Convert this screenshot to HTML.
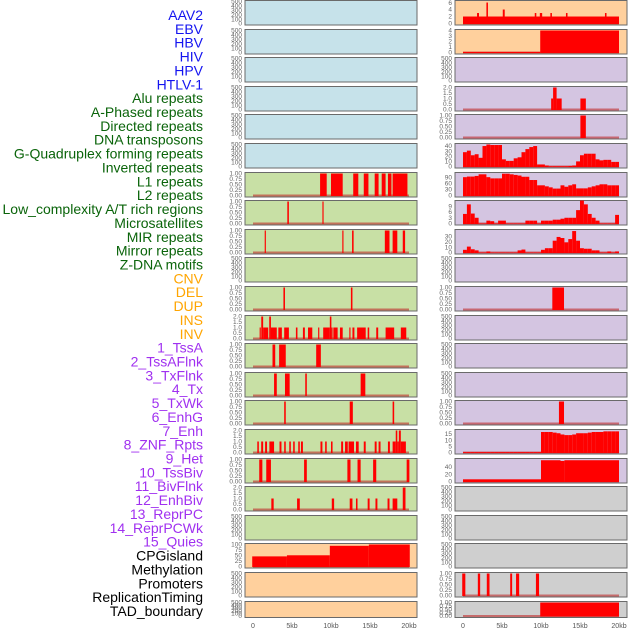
<!DOCTYPE html>
<html><head><meta charset="utf-8">
<style>
html,body{margin:0;padding:0;background:#fff;width:630px;height:630px;overflow:hidden}
svg{display:block;font-family:"Liberation Sans",sans-serif}
</style></head>
<body>
<svg id="chart" width="630" height="630" viewBox="0 0 630 630" xmlns="http://www.w3.org/2000/svg"></svg>
<script>
// ---------- labels ----------
const labelTexts = ["AAV2","EBV","HBV","HIV","HPV","HTLV-1","Alu repeats","A-Phased repeats","Directed repeats","DNA transposons","G-Quadruplex forming repeats","Inverted repeats","L1 repeats","L2 repeats","Low_complexity A/T rich regions","Microsatellites","MIR repeats","Mirror repeats","Z-DNA motifs","CNV","DEL","DUP","INS","INV","1_TssA","2_TssAFlnk","3_TxFlnk","4_Tx","5_TxWk","6_EnhG","7_Enh","8_ZNF_Rpts","9_Het","10_TssBiv","11_BivFlnk","12_EnhBiv","13_ReprPC","14_ReprPCWk","15_Quies","CPGisland","Methylation","Promoters","ReplicationTiming","TAD_boundary"];
const labelGroups = [6,13,5,15,5];
const groupColors = ["#1414f0","#0a640a","#ffa500","#a030f0","#000000"];

// ---------- tick label sets ----------
const ticksEmpty = [0,100,200,300,400,500];
const ticksUnit = ["0.00","0.25","0.50","0.75","1.00"];
const ticksTwo = ["0.0","0.5","1.0","1.5","2.0"];
const ticksAAV2 = [0,2,4,6];
const ticksEBV = [0,1,2,3,4];
const ticksGQ = [0,10,20,30,40];
const ticksInv = [0,30,60,90];
const ticksLow = [0,3,6,9];
const ticksMIR = [0,10,20,30];
const ticksZNF = [0,5,10,15];
const ticksHet = [0,20,40];
const ticksMeth = [0,25,50,75,100];
const xTickLabels = ["0","5kb","10kb","15kb","20kb"];
const xTickValues = [0,5,10,15,20];

// ---------- left column data: [startKb, endKb, value] ----------
const leftL1 = [[8.6,9.45,1],[10,11.5,1],[12.85,13.5,1],[14.2,14.8,1],[15.6,16.1,1],[16.5,17,1],[17.3,17.75,1],[17.9,19.8,1]];
const leftL2 = [[4.4,4.6,1],[8.9,9.05,1]];
const leftLowAT = [[1.5,1.65,1],[11.45,11.6,1],[12.7,12.9,1],[16.9,17.5,1],[17.9,18.5,1],[19.2,19.5,1]];
const leftMIR = [[3.9,4.1,1],[12.55,12.75,1]];
const leftMirror = [[0.85,1.0,1],[1.06,1.3,2],[1.3,1.95,1],[2.08,2.3,2],[2.3,3.05,1],[3.25,3.7,1],[4.0,4.6,1],[5.5,5.7,1],[6.4,6.65,1],[7.05,7.6,1],[8.35,8.5,1],[9.0,9.85,1],[9.85,10.05,2],[10.05,10.2,1],[10.3,10.85,1],[11.15,11.5,1],[12.35,12.5,1],[12.75,13.0,1],[13.35,14.45,1],[14.7,14.9,1],[15.8,16.05,1],[17.0,18.1,1],[18.95,19.65,1]];
const leftZDNA = [[2.5,2.85,1],[3.35,4.2,1],[8.1,8.7,1]];
const leftCNV = [[2.7,3.05,1],[4.1,4.7,1],[6.7,6.9,1],[13.8,14.4,1]];
const leftDEL = [[4.0,4.2,1],[12.4,12.8,1],[17.9,18.1,1]];
const leftDUP = [[0.55,0.75,1],[1.05,1.3,1],[1.55,1.8,1],[2.1,2.7,1],[3.4,3.65,1],[4.0,4.2,1],[4.65,4.85,1],[5.15,5.35,1],[5.8,6.0,1],[6.15,6.4,1],[8.65,8.9,1],[9.25,9.45,1],[10.0,10.2,1],[11.3,11.55,1],[11.8,12.15,1],[12.25,12.95,1],[13.2,13.55,1],[14.2,14.45,1],[15.6,15.85,1],[16.1,16.35,1],[17.3,17.55,1],[17.9,18.3,1],[18.3,18.5,2],[18.5,18.7,1],[18.7,18.95,2],[18.95,19.6,1]];
const leftINS = [[0.8,1.2,1],[1.7,2.3,1],[6.55,6.9,1],[12.1,12.5,1],[13.4,13.8,1],[15.4,15.8,1],[19.7,20.05,1]];
const leftINV = [[2.35,2.65,1],[5.65,6.0,1],[10.1,10.4,1],[12.4,12.75,1],[13.2,13.4,1],[14.7,14.95,1],[15.7,15.95,1],[17.25,17.5,1],[17.9,18.5,1],[19.2,19.55,2]];
const leftMeth = [[-0.1,4.35,46],[4.35,9.85,51],[9.85,14.85,94],[14.85,20.1,100]];

// ---------- right column data ----------
const rightAAV2 = [[0,20,2],[1.8,2.05,3],[3,3.2,6],[5.1,5.35,4],[9.2,9.4,3],[9.85,10.15,3],[11.2,11.4,3],[13.2,13.4,3],[18.2,18.4,3]];
const rightEBV = [[0,9.9,0.1],[9.9,20,4]];
const rightHPV = [[11.3,11.55,1],[11.55,12.0,2],[12.0,12.65,1],[15.05,15.75,1]];
const rightHTLV = [[15.05,15.75,1]];
// binned profiles, 0.5kb bins from 0 to 20kb
const rightGQuad = [28,31,22,24,17,40,43,42,42,42,14,11,11,16,18,28,34,38,40,4,4,2,0.5,0.5,0.5,0.5,0.5,1,2,10,22,25,25,25,14,12,13,13,9,9];
const rightInverted = [90,93,93,96,104,104,90,84,84,84,107,107,104,101,98,92,92,76,76,50,50,45,40,34,34,50,43,50,55,35,35,35,40,45,50,55,55,50,50,50];
const rightLowAT = [5,10,5.2,3,0,0,1.5,1.2,0,1.5,1.5,0,0,0,0,0,1.5,1.5,1.5,0,1.5,1.5,1.5,2,2,2.5,3,3,3,7,12,10,5,3,1.5,0,0,0,0,4.5];
const rightMicro = [5,11,6,4,0,0,2,0,0,0,0,0,0,0,4,5.5,0,0,0,0,5,8,8,22,29,27,19,25,40,22,8,7,7,4,4,0,0,2,0,2];
const rightDEL = [[11.45,12.95,1]];
const rightEnhG = [[12.3,12.95,1]];
const rightZNF = [0.3,0.3,0.3,0.3,0.3,0.3,0.3,0.3,0.3,0.3,0.3,0.3,0.3,0.3,0.3,0.3,0.3,0.3,0.3,0.3,16.5,16.5,16.5,16,15.5,14.5,14,14,14.5,15.5,15.5,15.5,16,16.5,16.5,16.5,17,17,17,17];
const rightHet = [[0,10,6],[10,12.5,58],[12.5,13,56],[13,20,58]];
const rightPromoters = [[-0.1,0.3,1],[1.9,2.2,1],[3.05,3.4,1],[6.05,6.3,1],[6.8,7.2,1],[9.35,9.75,1]];
const rightTAD = [[9.9,20,1]];

function bins(arr){ return arr.map((v,i)=>[i*0.5,i*0.5+0.5,v]); }

const BLUE="#c6e2ea", GREEN="#c8e0a5", ORANGE="#ffd09d", PURPLE="#d4c5e1", GRAY="#cfcfcf";

// panel config: [name, bg, data, ymax, ticks]
const leftPanels = [
 ["aav2",BLUE,null,500,ticksEmpty],["ebv",BLUE,null,500,ticksEmpty],["hbv",BLUE,null,500,ticksEmpty],
 ["hiv",BLUE,null,500,ticksEmpty],["hpv",BLUE,null,500,ticksEmpty],["htlv",BLUE,null,500,ticksEmpty],
 ["l1",GREEN,leftL1,1,ticksUnit],["l2",GREEN,leftL2,1,ticksUnit],["low-at",GREEN,leftLowAT,1,ticksUnit],
 ["micro",GREEN,null,500,ticksEmpty],["mir",GREEN,leftMIR,1,ticksUnit],["mirror",GREEN,leftMirror,2,ticksTwo],
 ["zdna",GREEN,leftZDNA,1,ticksUnit],["cnv",GREEN,leftCNV,1,ticksUnit],["del",GREEN,leftDEL,1,ticksUnit],
 ["dup",GREEN,leftDUP,2,ticksTwo],["ins",GREEN,leftINS,1,ticksUnit],["inv",GREEN,leftINV,2,ticksTwo],
 ["state",GREEN,null,500,ticksEmpty],["methylation",ORANGE,leftMeth,100,ticksMeth],
 ["replication",ORANGE,null,500,ticksEmpty],["tad",ORANGE,null,500,ticksEmpty]
];
const rightPanels = [
 ["aav2",ORANGE,rightAAV2,6.3,ticksAAV2],["ebv",ORANGE,rightEBV,4,ticksEBV],["hbv",PURPLE,null,500,ticksEmpty],
 ["hpv",PURPLE,rightHPV,2,ticksTwo],["htlv",PURPLE,rightHTLV,1,ticksUnit],["gquad",PURPLE,bins(rightGQuad),43,ticksGQ],
 ["inverted",PURPLE,bins(rightInverted),108,ticksInv],["low-at",PURPLE,bins(rightLowAT),11.5,ticksLow],
 ["microsat",PURPLE,bins(rightMicro),41,ticksMIR],["mirror",PURPLE,null,500,ticksEmpty],
 ["del",PURPLE,rightDEL,1,ticksUnit],["ins",PURPLE,null,500,ticksEmpty],["tssa",PURPLE,null,500,ticksEmpty],
 ["txflnk",PURPLE,null,500,ticksEmpty],["enhg",PURPLE,rightEnhG,1,ticksUnit],["znf",PURPLE,bins(rightZNF),17.7,ticksZNF],
 ["het",PURPLE,rightHet,60,ticksHet],["biv",GRAY,null,500,ticksEmpty],["reprpc",GRAY,null,500,ticksEmpty],
 ["cpg",GRAY,null,500,ticksEmpty],["promoters",GRAY,rightPromoters,1,ticksUnit],["tad",GRAY,rightTAD,1,ticksUnit]
];

const NS="http://www.w3.org/2000/svg";
const svg=document.getElementById("chart");
function mk(tag,attrs,parent){const e=document.createElementNS(NS,tag);for(const k in attrs)e.setAttribute(k,attrs[k]);(parent||svg).appendChild(e);return e;}

// labels
let li=0;
labelGroups.forEach((n,g)=>{
  for(let k=0;k<n;k++){
    const t=mk("text",{x:203,y:15+li*13.86+5,"text-anchor":"end","font-size":"14",fill:groupColors[g]});
    t.textContent=labelTexts[li];
    
    
    li++;
  }
});

const cols=[{x0:245,x1:417,z:253,panels:leftPanels,side:"left"},{x0:455,x1:627,z:463,panels:rightPanels,side:"right"}];
const KB=7.8;
cols.forEach(c=>{
  const xs=kb=>c.z+kb*KB;
  c.panels.forEach((p,i)=>{
    const top=Math.round(i*28.6)+0.5;
    const h=(i===21)?16:24.5;
    const bot=top+h;
    const g=mk("g",{});
    
    
    mk("rect",{x:c.x0,y:top,width:c.x1-c.x0,height:h,fill:p[1],stroke:"#6a6a6a","stroke-width":1},g);
    const ymax=p[3];
    const ys=v=>bot-1.5-(v/ymax)*(h-2.5);
    if(p[2]){
      const base=mk("rect",{x:xs(0),y:bot-2.5,width:20*KB,height:2,fill:"rgba(190,40,40,0.6)"},g);
      
      
      p[2].forEach(d=>{
        const y=ys(d[2]);
        const r=mk("rect",{x:xs(d[0]),y:y,width:Math.max(1,(d[1]-d[0])*KB),height:Math.max(0,bot-1-y),fill:"#ff0000"},g);
        
        
      });
    }
    // y ticks
    const tk=p[4];
    tk.forEach((lab,j)=>{
      const v=parseFloat(lab);
      const t=mk("text",{x:c.x0-3,y:ys(v)+2.2,"text-anchor":"end","font-size":"6.5",fill:"#666"},g);
      t.textContent=lab;
      
      
    });
  });
  xTickValues.forEach((v,j)=>{
    const t=mk("text",{x:xs(v),y:628,"text-anchor":"middle","font-size":"7",fill:"#555"});
    t.textContent=xTickLabels[j];
    
    
  });
});
</script>
</body></html>
